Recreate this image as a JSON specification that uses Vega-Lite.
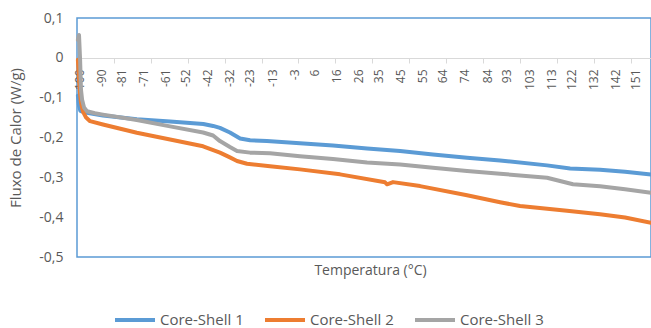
{
  "$schema": "https://vega.github.io/schema/vega-lite/v6.json",
  "autosize": "none",
  "padding": {"left": 77, "top": 18, "right": 0, "bottom": 71},
  "width": 574,
  "height": 239,
  "config": {
    "font": "Open Sans",
    "view": {"stroke": "#5B9BD5", "strokeWidth": 1.5},
    "axis": {"grid": false, "labelColor": "#595959", "titleColor": "#595959", "titleFontWeight": "normal"},
    "axisY": {"labelOverlap": false}
  },
  "data": {
    "values": [
      {"t": -100.6, "v": -0.095, "s": "Core-Shell 1"},
      {"t": -100.1, "v": -0.12, "s": "Core-Shell 1"},
      {"t": -99.5, "v": -0.133, "s": "Core-Shell 1"},
      {"t": -98.0, "v": -0.136, "s": "Core-Shell 1"},
      {"t": -96.5, "v": -0.138, "s": "Core-Shell 1"},
      {"t": -89.3, "v": -0.145, "s": "Core-Shell 1"},
      {"t": -74.0, "v": -0.154, "s": "Core-Shell 1"},
      {"t": -59.0, "v": -0.16, "s": "Core-Shell 1"},
      {"t": -44.0, "v": -0.166, "s": "Core-Shell 1"},
      {"t": -39.6, "v": -0.171, "s": "Core-Shell 1"},
      {"t": -36.5, "v": -0.176, "s": "Core-Shell 1"},
      {"t": -32.0, "v": -0.1875, "s": "Core-Shell 1"},
      {"t": -27.4, "v": -0.2025, "s": "Core-Shell 1"},
      {"t": -22.9, "v": -0.207, "s": "Core-Shell 1"},
      {"t": -15.3, "v": -0.209, "s": "Core-Shell 1"},
      {"t": -0.4, "v": -0.2145, "s": "Core-Shell 1"},
      {"t": 14.5, "v": -0.22, "s": "Core-Shell 1"},
      {"t": 29.9, "v": -0.2275, "s": "Core-Shell 1"},
      {"t": 44.8, "v": -0.234, "s": "Core-Shell 1"},
      {"t": 59.6, "v": -0.2425, "s": "Core-Shell 1"},
      {"t": 75.0, "v": -0.251, "s": "Core-Shell 1"},
      {"t": 89.9, "v": -0.2575, "s": "Core-Shell 1"},
      {"t": 111.1, "v": -0.27, "s": "Core-Shell 1"},
      {"t": 121.5, "v": -0.278, "s": "Core-Shell 1"},
      {"t": 135.0, "v": -0.281, "s": "Core-Shell 1"},
      {"t": 146.3, "v": -0.286, "s": "Core-Shell 1"},
      {"t": 158.0, "v": -0.293, "s": "Core-Shell 1"},

      {"t": -100.6, "v": -0.005, "s": "Core-Shell 2"},
      {"t": -100.1, "v": -0.055, "s": "Core-Shell 2"},
      {"t": -99.6, "v": -0.0925, "s": "Core-Shell 2"},
      {"t": -99.2, "v": -0.1125, "s": "Core-Shell 2"},
      {"t": -98.3, "v": -0.135, "s": "Core-Shell 2"},
      {"t": -96.9, "v": -0.15, "s": "Core-Shell 2"},
      {"t": -95.1, "v": -0.159, "s": "Core-Shell 2"},
      {"t": -89.3, "v": -0.1675, "s": "Core-Shell 2"},
      {"t": -74.0, "v": -0.188, "s": "Core-Shell 2"},
      {"t": -59.0, "v": -0.205, "s": "Core-Shell 2"},
      {"t": -44.1, "v": -0.222, "s": "Core-Shell 2"},
      {"t": -36.5, "v": -0.238, "s": "Core-Shell 2"},
      {"t": -32.0, "v": -0.25, "s": "Core-Shell 2"},
      {"t": -28.8, "v": -0.259, "s": "Core-Shell 2"},
      {"t": -24.3, "v": -0.266, "s": "Core-Shell 2"},
      {"t": -13.9, "v": -0.272, "s": "Core-Shell 2"},
      {"t": -0.4, "v": -0.28, "s": "Core-Shell 2"},
      {"t": 17.7, "v": -0.2925, "s": "Core-Shell 2"},
      {"t": 38.0, "v": -0.3125, "s": "Core-Shell 2"},
      {"t": 38.9, "v": -0.3175, "s": "Core-Shell 2"},
      {"t": 41.6, "v": -0.312, "s": "Core-Shell 2"},
      {"t": 53.8, "v": -0.322, "s": "Core-Shell 2"},
      {"t": 75.0, "v": -0.345, "s": "Core-Shell 2"},
      {"t": 89.9, "v": -0.3625, "s": "Core-Shell 2"},
      {"t": 98.9, "v": -0.372, "s": "Core-Shell 2"},
      {"t": 120.1, "v": -0.384, "s": "Core-Shell 2"},
      {"t": 135.0, "v": -0.3925, "s": "Core-Shell 2"},
      {"t": 146.3, "v": -0.401, "s": "Core-Shell 2"},
      {"t": 158.0, "v": -0.414, "s": "Core-Shell 2"},

      {"t": -100.6, "v": 0.045, "s": "Core-Shell 3"},
      {"t": -100.1, "v": 0.0575, "s": "Core-Shell 3"},
      {"t": -99.6, "v": -0.005, "s": "Core-Shell 3"},
      {"t": -99.2, "v": -0.08, "s": "Core-Shell 3"},
      {"t": -98.7, "v": -0.105, "s": "Core-Shell 3"},
      {"t": -97.8, "v": -0.125, "s": "Core-Shell 3"},
      {"t": -96.5, "v": -0.134, "s": "Core-Shell 3"},
      {"t": -92.9, "v": -0.139, "s": "Core-Shell 3"},
      {"t": -89.3, "v": -0.1425, "s": "Core-Shell 3"},
      {"t": -74.0, "v": -0.156, "s": "Core-Shell 3"},
      {"t": -59.0, "v": -0.172, "s": "Core-Shell 3"},
      {"t": -44.1, "v": -0.1875, "s": "Core-Shell 3"},
      {"t": -39.6, "v": -0.195, "s": "Core-Shell 3"},
      {"t": -36.5, "v": -0.209, "s": "Core-Shell 3"},
      {"t": -32.0, "v": -0.224, "s": "Core-Shell 3"},
      {"t": -28.8, "v": -0.234, "s": "Core-Shell 3"},
      {"t": -22.9, "v": -0.238, "s": "Core-Shell 3"},
      {"t": -13.9, "v": -0.2395, "s": "Core-Shell 3"},
      {"t": -0.4, "v": -0.247, "s": "Core-Shell 3"},
      {"t": 14.5, "v": -0.254, "s": "Core-Shell 3"},
      {"t": 29.9, "v": -0.263, "s": "Core-Shell 3"},
      {"t": 44.8, "v": -0.2675, "s": "Core-Shell 3"},
      {"t": 59.6, "v": -0.276, "s": "Core-Shell 3"},
      {"t": 75.0, "v": -0.284, "s": "Core-Shell 3"},
      {"t": 89.9, "v": -0.291, "s": "Core-Shell 3"},
      {"t": 111.1, "v": -0.301, "s": "Core-Shell 3"},
      {"t": 122.8, "v": -0.3175, "s": "Core-Shell 3"},
      {"t": 135.0, "v": -0.3225, "s": "Core-Shell 3"},
      {"t": 146.3, "v": -0.33, "s": "Core-Shell 3"},
      {"t": 158.0, "v": -0.339, "s": "Core-Shell 3"}
    ]
  },
  "layer": [
    {
      "mark": {"type": "point", "opacity": 0},
      "encoding": {
        "x": {
          "field": "t", "type": "quantitative",
          "scale": {"domain": [-101, 158], "nice": false, "zero": false},
          "axis": {
            "orient": "bottom", "offset": -199, "labels": false, "title": null,
            "values": [-101, -84.35, -67.7, -51.05, -34.4, -17.75, -1.1, 15.55, 32.2, 48.85, 65.5, 82.15, 98.8, 115.45, 132.1, 148.75],
            "domain": true, "domainColor": "#D9D9D9", "domainWidth": 1,
            "ticks": true, "tickColor": "#D9D9D9", "tickSize": 5, "tickWidth": 1
          }
        },
        "y": {
          "field": "v", "type": "quantitative",
          "scale": {"domain": [-0.5, 0.1], "nice": false, "zero": false},
          "axis": {
            "values": [-0.5, -0.4, -0.3, -0.2, -0.1, 0, 0.1],
            "labelExpr": "datum.value == 0 ? '0' : (datum.value < 0 ? '-' : '') + replace(format(abs(datum.value), '.1f'), '.', ',')",
            "labelOverlap": false, "labelBound": false,
            "domain": false, "ticks": false, "labelPadding": 14, "labelFontSize": 14,
            "title": "Fluxo de Calor (W/g)", "titleFontSize": 15,
            "titleX": -62, "titleBaseline": "middle"
          }
        }
      }
    },
    {
      "mark": {"type": "line", "strokeWidth": 4, "strokeCap": "round", "strokeJoin": "round"},
      "encoding": {
        "x": {
          "field": "t", "type": "quantitative",
          "axis": {
            "orient": "bottom", "offset": -199, "domain": false, "ticks": false,
            "values": [-100, -90, -81, -71, -61, -52, -42, -32, -23, -13, -3, 6, 16, 26, 35, 45, 55, 64, 74, 84, 93, 103, 113, 122, 132, 142, 151],
            "labelExpr": "(datum.value < 0 ? '-' : '') + format(abs(datum.value), 'd')",
            "labelOverlap": false,
            "labelAngle": -90, "labelFontSize": 12, "labelPadding": 11,
            "title": "Temperatura (°C)", "titleFontSize": 14,
            "titleX": 293, "titleY": 212, "titleBaseline": "middle", "titleAlign": "center"
          }
        },
        "y": {
          "field": "v", "type": "quantitative",
          "axis": {
            "values": [-0.5, -0.4, -0.3, -0.2, -0.1, 0, 0.1],
            "labelExpr": "datum.value == 0 ? '0' : (datum.value < 0 ? '-' : '') + replace(format(abs(datum.value), '.1f'), '.', ',')",
            "labelOverlap": false, "labelBound": false,
            "domain": false, "ticks": false, "labelPadding": 14, "labelFontSize": 14,
            "title": "Fluxo de Calor (W/g)", "titleFontSize": 15,
            "titleX": -62, "titleBaseline": "middle"
          }
        },
        "color": {
          "field": "s", "type": "nominal",
          "scale": {"domain": ["Core-Shell 1", "Core-Shell 2", "Core-Shell 3"], "range": ["#5B9BD5", "#ED7D31", "#A5A5A5"]},
          "legend": {
            "title": null, "orient": "none", "direction": "horizontal",
            "legendX": 36, "legendY": 280, "padding": 0,
            "symbolType": "stroke", "symbolSize": 1600, "symbolStrokeWidth": 4,
            "labelFontSize": 15, "labelColor": "#595959", "labelOffset": 3, "columnPadding": 13
          }
        }
      }
    }
  ],
  "resolve": {"axis": {"x": "independent"}}
}
